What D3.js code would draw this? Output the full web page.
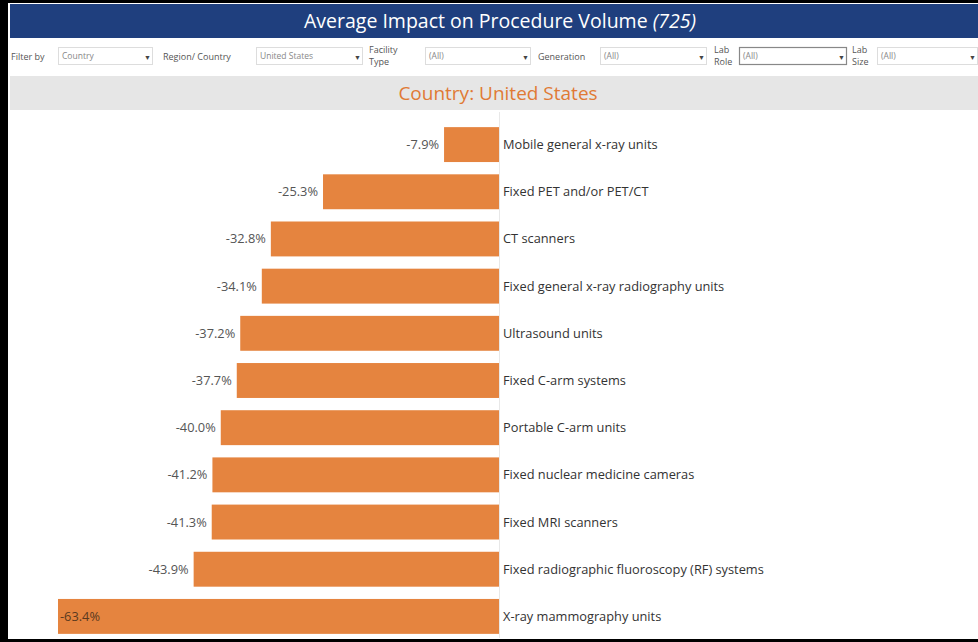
<!DOCTYPE html>
<html lang="en">
<head>
  <meta charset="UTF-8">
  <title>Average Impact on Procedure Volume</title>
  <script src="https://d3js.org/d3.v7.min.js"></script>
  <style>
    body { margin: 0; background: #fff; font-family: "Open Sans", sans-serif; }
    svg { display: block; }
  </style>
</head>
<body>
  <svg width="978" height="642"></svg>

  <script>
    const categories = [
      "Mobile general x-ray units",
      "Fixed PET and/or PET/CT",
      "CT scanners",
      "Fixed general x-ray radiography units",
      "Ultrasound units",
      "Fixed C-arm systems",
      "Portable C-arm units",
      "Fixed nuclear medicine cameras",
      "Fixed MRI scanners",
      "Fixed radiographic fluoroscopy (RF) systems",
      "X-ray mammography units"
    ];
    const impact = [-7.9, -25.3, -32.8, -34.1, -37.2, -37.7, -40.0, -41.2, -41.3, -43.9, -63.4];

    const filterLabels = [["Filter by"], ["Region/ Country"], ["Facility", "Type"], ["Generation"], ["Lab", "Role"], ["Lab", "Size"]];
    const filterValues = ["Country", "United States", "(All)", "(All)", "(All)", "(All)"];

    const svg = d3.select("svg");
    const W = 978, H = 642;
    const orange = "#e5843f";

    svg.append("rect").attr("width", W).attr("height", H).attr("fill", "#fff");

    // header
    svg.append("rect").attr("x", 10).attr("y", 4).attr("width", W - 10).attr("height", 34).attr("fill", "#1f3f7e");
    const title = svg.append("text").attr("x", 500).attr("y", 28)
      .attr("text-anchor", "middle").attr("fill", "#fff")
      .style("font-size", "19.5px");
    title.append("tspan").text("Average Impact on Procedure Volume ");
    title.append("tspan").style("font-style", "italic").text("(725)");

    // filter row
    const labelX = [11, 163, 369, 538, 714, 852];
    const boxX = [58, 256, 425, 600, 739, 877];
    const boxW = [94, 106, 105, 106, 107, 100];
    const fg = svg.append("g").style("font-size", "9px").attr("fill", "#555");
    filterLabels.forEach((lines, i) => {
      const t = fg.append("text").attr("x", labelX[i]);
      if (lines.length === 1) {
        t.attr("y", 60).text(lines[0]);
      } else {
        lines.forEach((l, j) => t.append("tspan").attr("x", labelX[i]).attr("y", 53 + j * 12).text(l));
      }
      fg.append("rect").attr("x", boxX[i] + 0.5).attr("y", 47.5).attr("width", boxW[i]).attr("height", 17)
        .attr("fill", "#fff").attr("stroke", i === 4 ? "#888" : "#ddd").attr("stroke-width", i === 4 ? 1.2 : 1);
      fg.append("text").attr("x", boxX[i] + 4).attr("y", 59).attr("fill", "#888").style("font-size", "8.5px").text(filterValues[i]);
      fg.append("text").attr("x", boxX[i] + boxW[i] - 8).attr("y", 60).attr("fill", "#444").style("font-size", "7px").text("▼");
    });

    // subtitle band
    svg.append("rect").attr("x", 10).attr("y", 76).attr("width", W - 10).attr("height", 34).attr("fill", "#e6e6e6");
    svg.append("text").attr("x", 498).attr("y", 100).attr("text-anchor", "middle")
      .attr("fill", "#e07a35").style("font-size", "19px").text("Country: United States");

    // scales
    const x = d3.scaleLinear().domain([-63.4, 0]).range([58, 499]);
    const y = d3.scaleBand().domain(categories).range([121, 640]).paddingInner(0.26).paddingOuter(0.13);

    // zero line
    svg.append("line").attr("x1", x(0) + 0.5).attr("x2", x(0) + 0.5).attr("y1", 112).attr("y2", 638)
      .attr("stroke", "#e8e8e8");

    const inside = v => x(v) < 110;
    const rows = svg.append("g").selectAll("g").data(categories).join("g");
    rows.append("rect")
      .attr("x", (d, i) => x(impact[i]))
      .attr("y", d => y(d))
      .attr("width", (d, i) => x(0) - x(impact[i]))
      .attr("height", y.bandwidth())
      .attr("fill", orange);

    rows.append("text")
      .attr("x", (d, i) => inside(impact[i]) ? x(impact[i]) + 2 : x(impact[i]) - 5)
      .attr("y", d => y(d) + y.bandwidth() / 2 + 4.5)
      .attr("text-anchor", (d, i) => inside(impact[i]) ? "start" : "end")
      .attr("fill", (d, i) => inside(impact[i]) ? "#5a3a20" : "#555")
      .style("font-size", "12.8px")
      .text((d, i) => impact[i].toFixed(1) + "%");

    rows.append("text")
      .attr("x", x(0) + 4)
      .attr("y", d => y(d) + y.bandwidth() / 2 + 4.5)
      .attr("fill", "#333")
      .style("font-size", "12.8px")
      .text(d => d);

    // black frame edges
    svg.append("rect").attr("x", 0).attr("y", 0).attr("width", W).attr("height", 3).attr("fill", "#000");
    svg.append("rect").attr("x", 0).attr("y", 0).attr("width", 8).attr("height", H).attr("fill", "#000");
    svg.append("rect").attr("x", 0).attr("y", H - 3).attr("width", W).attr("height", 3).attr("fill", "#000");
  </script>
</body>
</html>
